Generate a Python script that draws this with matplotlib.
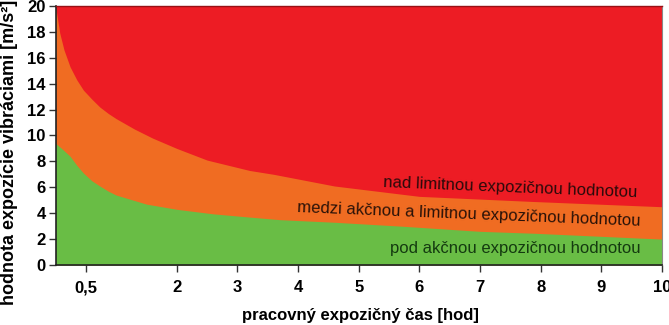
import matplotlib
matplotlib.use('Agg')
import matplotlib.pyplot as plt

plt.rcParams['font.family'] = ['Liberation Sans', 'DejaVu Sans']

# --- hranice pásiem (odčítané z grafu) ---
cas_horna = [0, 0.04, 0.07, 0.14, 0.24, 0.35, 0.46, 0.6, 0.73, 0.87, 1.0, 1.3, 1.6, 2.0, 2.5, 3.2, 3.6, 4.6, 6.0, 7.9, 10]
limit_hodnota = [20, 18.8, 17.9, 16.6, 15.3, 14.3, 13.5, 12.8, 12.2, 11.7, 11.3, 10.5, 9.8, 9.0, 8.1, 7.3, 7.0, 6.1, 5.3, 4.9, 4.5]

cas_dolna = [0, 0.1, 0.24, 0.35, 0.46, 0.6, 0.73, 0.87, 1.0, 1.5, 2.0, 2.6, 3.2, 3.7, 4.6, 5.7, 7.0, 7.9, 10]
akcna_hodnota = [9.4, 9.0, 8.4, 7.7, 7.1, 6.5, 6.1, 5.7, 5.4, 4.7, 4.3, 3.95, 3.7, 3.5, 3.3, 3.0, 2.6, 2.45, 2.0]

x_ticks = [0.5, 2, 3, 4, 5, 6, 7, 8, 9, 10]
x_labels = ['0,5', '2', '3', '4', '5', '6', '7', '8', '9', '10']
y_ticks = list(range(0, 21, 2))

cervena = '#ED1C24'
oranzova = '#F06C22'
zelena = '#69BD45'

fig = plt.figure(figsize=(6.69, 3.25), dpi=100)
ax = fig.add_axes([0.083, 0.1846, 0.9065, 0.797])

ax.fill_between([0, 10], 0, 20, color=cervena, linewidth=0)
ax.fill_between(cas_horna, 0, limit_hodnota, color=oranzova, linewidth=0)
ax.fill_between(cas_dolna, 0, akcna_hodnota, color=zelena, linewidth=0)

ax.set_xlim(0, 10)
ax.set_ylim(0, 20)
ax.set_xticks(x_ticks)
ax.set_xticklabels(x_labels)
ax.set_yticks(y_ticks)
ax.tick_params(axis='both', labelsize=12, length=5, width=1, color='#333333')
ax.tick_params(axis='x', pad=6)
ax.tick_params(axis='y', pad=2)
for lab in ax.get_xticklabels() + ax.get_yticklabels():
    lab.set_fontweight('bold')

for s in ['left', 'bottom']:
    ax.spines[s].set_color('#222222')
    ax.spines[s].set_linewidth(1.2)
ax.spines['top'].set_color('#9a1015')
ax.spines['top'].set_linewidth(1)
ax.spines['right'].set_color('#888888')
ax.spines['right'].set_linewidth(0.8)

ax.set_xlabel('pracovný expozičný čas [hod]', fontsize=12, fontweight='bold')
ax.set_ylabel('hodnota expozície vibráciami [m/s²]', fontsize=13, fontweight='bold')
ax.xaxis.set_label_coords(0.502, -0.166)
ax.yaxis.set_label_coords(-0.062, 0.436)

ax.text(9.6, 5.55, 'nad limitnou expozičnou hodnotou', fontsize=12, color='#2a0a0a',
        ha='right', va='center', rotation=-2.3, rotation_mode='anchor')
ax.text(9.65, 3.4, 'medzi akčnou a limitnou expozičnou hodnotou', fontsize=12, color='#2a1208',
        ha='right', va='center', rotation=-2.3, rotation_mode='anchor')
ax.text(9.65, 1.3, 'pod akčnou expozičnou hodnotou', fontsize=12, color='#143a10',
        ha='right', va='center')

plt.savefig('out.png', dpi=100)
